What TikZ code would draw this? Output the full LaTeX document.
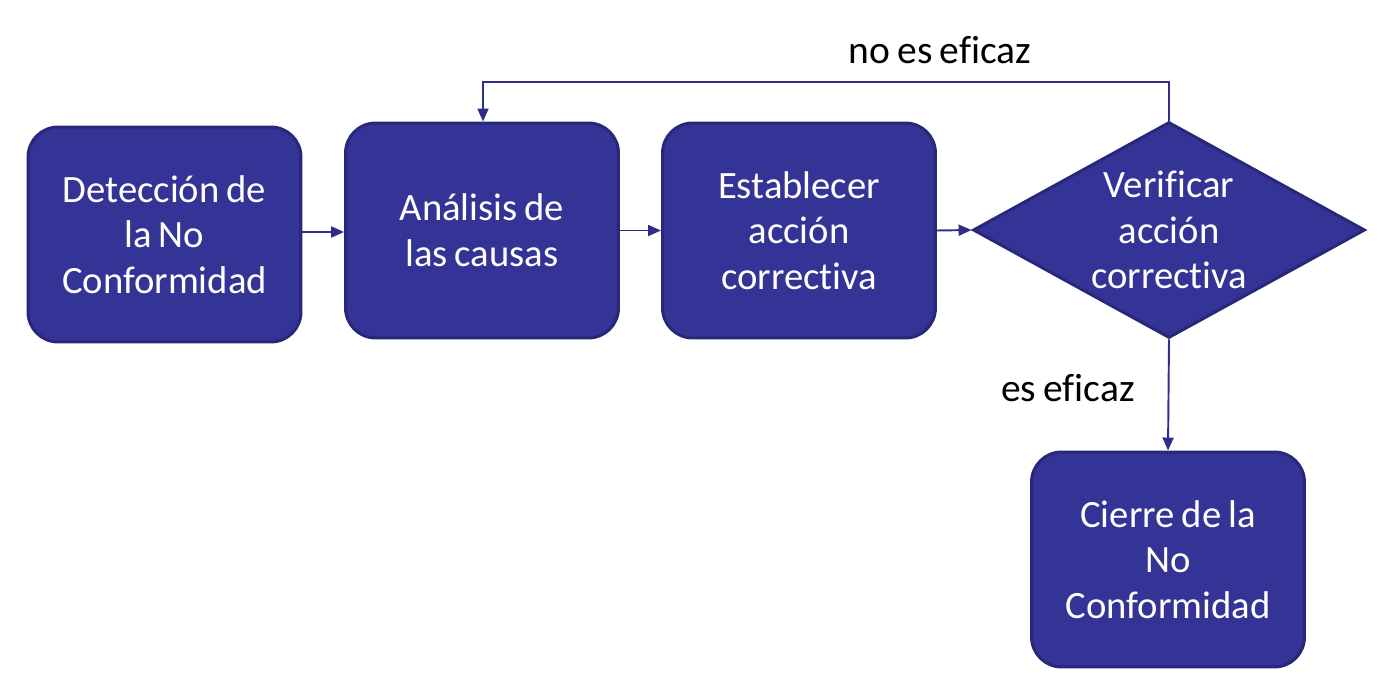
\documentclass[tikz,border=0pt]{standalone}
\usepackage{fontspec}
\setmainfont[Ligatures=NoCommon,WordSpace=0.8]{Carlito}
\usetikzlibrary{shapes.geometric,arrows.meta}
\definecolor{boxfill}{HTML}{343396}
\definecolor{boxline}{HTML}{28287A}
\definecolor{arrowcol}{HTML}{2E2E88}
\begin{document}
\begin{tikzpicture}[x=0.02cm,y=-0.02cm,
  procbox/.style={draw=boxline, line width=1.7pt, fill=boxfill, rounded corners=0.6cm,
    minimum width=5.46cm, minimum height=4.3cm, align=center,
    text=white, font=\fontsize{22}{26}\selectfont, inner sep=0pt},
  decision/.style={draw=boxline, line width=1.7pt, fill=boxfill, diamond, aspect=1.8,
    minimum width=7.84cm, minimum height=4.32cm, align=center, inner sep=0pt,
    text=white, font=\fontsize{22}{26}\selectfont},
  conn/.style={draw=arrowcol, line width=1.1pt, -{Triangle[length=0.26cm,width=0.22cm]}},
  lbl/.style={text=black, font=\fontsize{22.5}{26}\selectfont, inner sep=0pt}]
\useasboundingbox (0,0) rectangle (1382,682);
\node[procbox] (det) at (164.5,234.5) {Detección de\\la No\\Conformidad};
\node[procbox] (ana) at (482,230.5) {Análisis de\\las causas};
\node[procbox] (est) at (799,230.5) {Establecer\\acción\\correctiva};
\node[decision] (ver) at (1169,230) {Verificar\\acción\\correctiva};
\node[procbox] (cie) at (1168,559.5) {Cierre de la\\No\\Conformidad};
\coordinate (c1) at (1169,82);
\coordinate (c2) at (483,82);
\draw[conn] (det.east |- 0,232) -- (ana.west |- 0,232);
\draw[conn] (ana.east) -- (est.west);
\draw[conn] (est.east) -- (ver.west);
\draw[conn] (ver.north) -- (c1) -- (c2) -- (c2 |- ana.north);
\draw[conn] (ver.south) -- (cie.north);
\node[lbl] (noef) at (940,50) {no es eficaz};
\node[lbl] (esef) at (1068,388) {es eficaz};
\end{tikzpicture}
\end{document}
